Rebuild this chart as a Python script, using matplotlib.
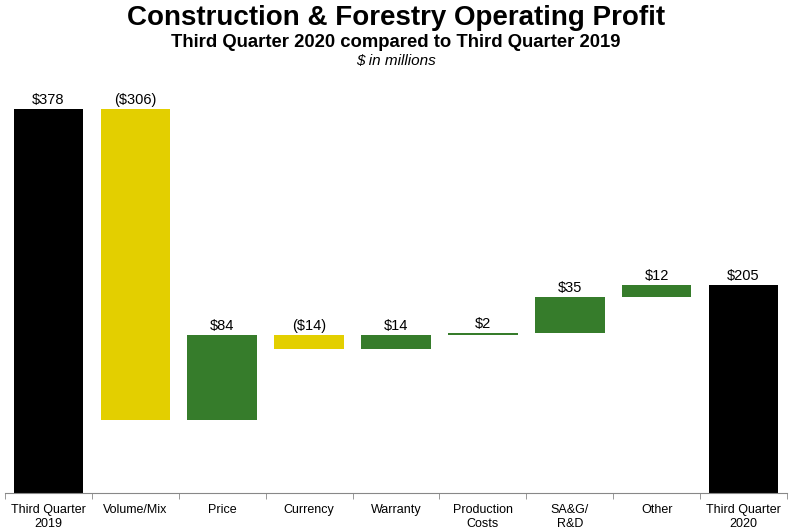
import matplotlib.pyplot as plt

# waterfall data, $ millions
categories = ["Third Quarter\n2019", "Volume/Mix", "Price", "Currency", "Warranty",
              "Production\nCosts", "SA&G/\nR&D", "Other", "Third Quarter\n2020"]
values = [378, -306, 84, -14, 14, 2, 35, 12, 205]
labels = ["$378", "($306)", "$84", "($14)", "$14", "$2", "$35", "$12", "$205"]
kinds = ["total", "change", "change", "change", "change", "change", "change", "change", "total"]

GREEN = "#367C2B"
YELLOW = "#E3CF00"

plt.rcParams["font.family"] = ["Liberation Sans", "DejaVu Sans"]

fig = plt.figure(figsize=(7.92, 5.30), dpi=100)
ax = fig.add_axes([5 / 792, 1 - 493 / 530, 782 / 792, 0.766])

running = 0
for i, (v, kind) in enumerate(zip(values, kinds)):
    if kind == "total":
        bottom, height, color = 0, v, "black"
        running = v
    else:
        bottom = running if v >= 0 else running + v
        height = abs(v)
        color = GREEN if v >= 0 else YELLOW
        running += v
    ax.bar(i, height, bottom=bottom, width=0.8, color=color)
    ax.text(i, bottom + height + 2, labels[i], ha="center", va="bottom", fontsize=10.5)

ax.set_xlim(-0.5, len(categories) - 0.5)
ax.set_ylim(0, 400)
ax.set_yticks([])
ax.set_xticks(range(len(categories)))
ax.set_xticklabels(categories, fontsize=9)
ax.tick_params(axis="x", length=0, pad=8)
# small tick marks at category boundaries
ax.set_xticks([i - 0.5 for i in range(len(categories) + 1)], minor=True)
ax.tick_params(axis="x", which="minor", length=4, color="#888888", direction="out")
for s in ["top", "right", "left"]:
    ax.spines[s].set_visible(False)
ax.spines["bottom"].set_color("#888888")

fig.text(0.5, 0.966, "Construction & Forestry Operating Profit", ha="center", va="center",
         fontsize=20, fontweight="bold")
fig.text(0.5, 0.920, "Third Quarter 2020 compared to Third Quarter 2019", ha="center", va="center",
         fontsize=13.3, fontweight="bold")
fig.text(0.5, 0.884, "$ in millions", ha="center", va="center", fontsize=11, style="italic")

fig.savefig("out.png", dpi=100)
